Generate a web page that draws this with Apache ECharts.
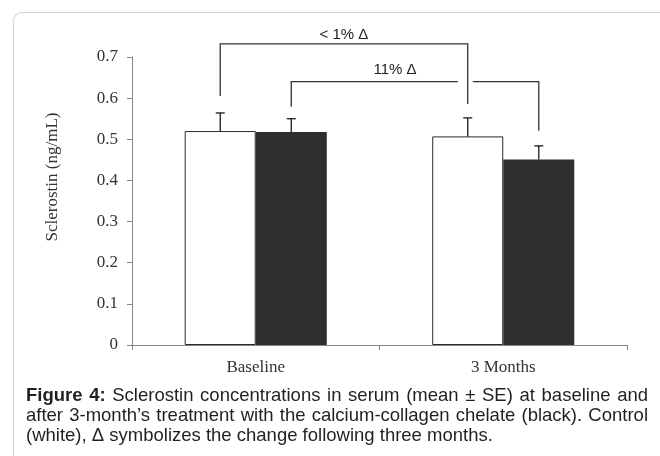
<!DOCTYPE html>
<html>
<head>
<meta charset="utf-8">
<script src="https://cdn.jsdelivr.net/npm/echarts@6/dist/echarts.min.js"></script>
<style>
html,body{margin:0;padding:0;background:#fff;}
#chart{width:660px;height:456px;}
</style>
</head>
<body>
<div id="chart"></div>
<script>
// ---- data ----
const categories = ['Baseline', '3 Months'];
const controlMean = [0.520, 0.507];   // white bars
const controlSE   = [0.044, 0.045];
const treatMean   = [0.518, 0.451];   // black bars (calcium-collagen chelate)
const treatSE     = [0.032, 0.033];
const yTickLabels = ['0', '0.1', '0.2', '0.3', '0.4', '0.5', '0.6', '0.7'];

// comparison brackets (same group, baseline -> 3 months)
const bracketLabels   = ['< 1% \u0394', '11% \u0394'];
const bracketGroup    = [0, 1];          // 0 = control (white), 1 = treatment (black)
const bracketTop      = [0.732, 0.640];
const bracketStartEnd = [0.605, 0.579];
const bracketStopEnd  = [0.586, 0.521];

const yAxisTitle = 'Sclerostin (ng/mL)';
const captionLines = [
  'Figure 4: Sclerostin concentrations in serum (mean \u00b1 SE) at baseline and',
  'after 3-month\u2019s treatment with the calcium-collagen chelate (black). Control',
  '(white), \u0394 symbolizes the change following three months.'
];

// ---- style ----
const BAR_FRAC = 0.287;
const serif = '"Liberation Serif", "Times New Roman", serif';
const sans = '"Liberation Sans", Arial, sans-serif';
const labelDx = [0, -20];
const labelDy = [-9, -12];

const chart = echarts.init(document.getElementById('chart'), null, {renderer: 'canvas'});

function barOffset(band, group) {
  const w = band * BAR_FRAC;
  return group === 0 ? -w / 2 : w / 2;
}

function errorRender(group) {
  return function (params, api) {
    const i = api.value(0);
    const mean = api.value(1);
    const se = api.value(2);
    const band = api.size([1, 0])[0];
    const base = api.coord([i, mean]);
    const x = base[0] + barOffset(band, group);
    const y0 = base[1];
    const y1 = api.coord([i, mean + se])[1];
    const cap = 4.5;
    const st = {stroke: '#1a1a1a', lineWidth: 1.3, fill: null};
    return {
      type: 'group',
      children: [
        {type: 'line', shape: {x1: x, y1: y0, x2: x, y2: y1}, style: st},
        {type: 'line', shape: {x1: x - cap, y1: y1, x2: x + cap, y2: y1}, style: st}
      ]
    };
  };
}

function bracketRender(params, api) {
  const k = params.dataIndex;
  const band = api.size([1, 0])[0];
  const g = bracketGroup[k];
  const x1 = api.coord([0, 0])[0] + barOffset(band, g);
  const x2 = api.coord([1, 0])[0] + barOffset(band, g);
  const yTop = api.coord([0, bracketTop[k]])[1];
  const yL = api.coord([0, bracketStartEnd[k]])[1];
  const yR = api.coord([1, bracketStopEnd[k]])[1];
  const st = {stroke: '#333', lineWidth: 1.3, fill: null};
  const children = [];
  let gapX = null;
  for (let j = 0; j < bracketLabels.length; j++) {
    if (j === k) continue;
    const xj = api.coord([1, 0])[0] + barOffset(band, bracketGroup[j]);
    const yTopJ = api.coord([0, bracketTop[j]])[1];
    const yRJ = api.coord([1, bracketStopEnd[j]])[1];
    if (xj > x1 && xj < x2 && yTopJ < yTop && yRJ > yTop) gapX = xj;
  }
  if (gapX === null) {
    children.push({type: 'polyline', shape: {points: [[x1, yL], [x1, yTop], [x2, yTop], [x2, yR]]}, style: st});
  } else {
    children.push({type: 'polyline', shape: {points: [[x1, yL], [x1, yTop], [gapX - 10, yTop]]}, style: st});
    children.push({type: 'polyline', shape: {points: [[gapX + 5, yTop], [x2, yTop], [x2, yR]]}, style: st});
  }
  children.push({
    type: 'text',
    style: {
      x: (x1 + x2) / 2 + labelDx[k], y: yTop + labelDy[k],
      text: bracketLabels[k], align: 'center', verticalAlign: 'middle',
      font: '15px ' + sans, fill: '#222'
    }
  });
  return {type: 'group', children: children};
}

// ---- justified caption built from measured words ----
const measureCtx = document.createElement('canvas').getContext('2d');
function captionGraphics() {
  const left = 26, right = 648, mid0 = 396, lh = 20;
  const size = 18.5;
  const els = [];
  captionLines.forEach((line, li) => {
    const words = line.split(' ');
    const fonts = words.map((w, wi) => (li === 0 && wi < 2 ? 'bold ' : '') + size + 'px ' + sans);
    const widths = words.map((w, wi) => { measureCtx.font = fonts[wi]; return measureCtx.measureText(w).width; });
    measureCtx.font = size + 'px ' + sans;
    const spaceW = measureCtx.measureText(' ').width;
    const total = widths.reduce((a, b) => a + b, 0);
    const last = li === captionLines.length - 1;
    let gap = last ? spaceW : (right - left - total) / (words.length - 1);
    if (gap < spaceW * 0.6) gap = spaceW * 0.6;
    let x = left;
    words.forEach((w, wi) => {
      els.push({
        type: 'text', x: x, y: mid0 + li * lh,
        style: {text: w, font: fonts[wi], fill: '#231f20', verticalAlign: 'middle', align: 'left'}
      });
      x += widths[wi] + gap;
    });
  });
  return els;
}

const option = {
  animation: false,
  backgroundColor: '#fff',
  grid: {left: 132, right: 33, top: 57, bottom: 111, containLabel: false},
  xAxis: {
    type: 'category',
    data: categories,
    axisLine: {lineStyle: {color: '#868686', width: 1}},
    axisTick: {show: true, length: 5, lineStyle: {color: '#868686'}},
    axisLabel: {color: '#333', fontFamily: serif, fontSize: 17, margin: 14}
  },
  yAxis: {
    type: 'value',
    min: 0, max: 0.7, interval: 0.1,
    splitLine: {show: false},
    axisLine: {show: true, lineStyle: {color: '#868686', width: 1}},
    axisTick: {show: true, length: 5, lineStyle: {color: '#868686'}},
    axisLabel: {
      color: '#333', fontFamily: serif, fontSize: 17, margin: 14,
      formatter: v => yTickLabels[Math.round(v * 10)]
    }
  },
  series: [
    {
      type: 'bar', name: 'Control', data: controlMean,
      barWidth: (BAR_FRAC * 100) + '%', barGap: '0%',
      itemStyle: {color: '#ffffff', borderColor: '#2a2a2a', borderWidth: 1}
    },
    {
      type: 'bar', name: 'Calcium-collagen chelate', data: treatMean,
      barWidth: (BAR_FRAC * 100) + '%', barGap: '0%',
      itemStyle: {color: '#302e30', borderColor: '#302e30', borderWidth: 0}
    },
    {
      type: 'custom', clip: false, z: 5,
      renderItem: errorRender(0),
      encode: {x: 0, y: 1},
      data: categories.map((c, i) => [i, controlMean[i], controlSE[i]])
    },
    {
      type: 'custom', clip: false, z: 5,
      renderItem: errorRender(1),
      encode: {x: 0, y: 1},
      data: categories.map((c, i) => [i, treatMean[i], treatSE[i]])
    },
    {
      type: 'custom', clip: false, z: 6,
      renderItem: bracketRender,
      encode: {x: 0, y: 1},
      data: bracketLabels.map((l, k) => [0, bracketTop[k]])
    }
  ],
  graphic: [
    {
      type: 'rect', left: 11, top: 10, z: -10, silent: true,
      shape: {width: 700, height: 500, r: 8},
      style: {fill: 'none', stroke: '#d4d4d4', lineWidth: 1.2}
    },
    {
      type: 'text', x: 53, y: 177, rotation: Math.PI / 2,
      style: {text: yAxisTitle, font: '17px ' + serif, fill: '#333', align: 'center', verticalAlign: 'middle'}
    }
  ].concat(captionGraphics())
};
chart.setOption(option);
</script>
</body>
</html>
